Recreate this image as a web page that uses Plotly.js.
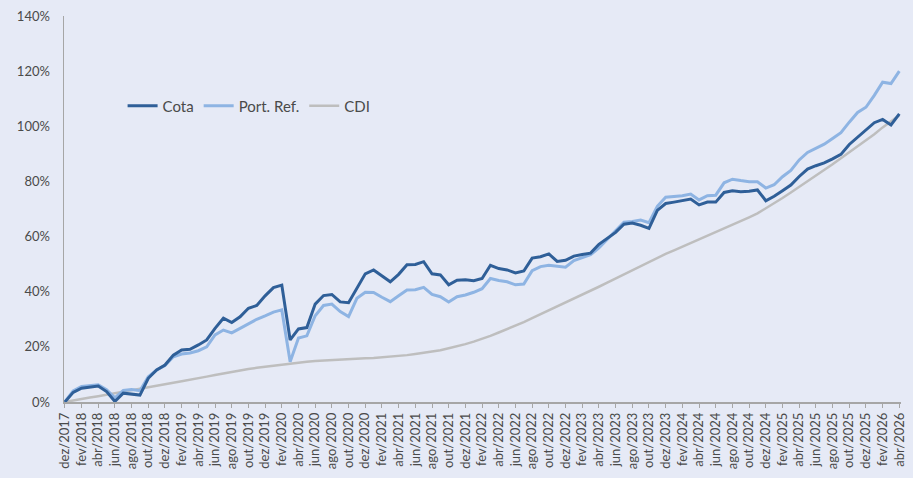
<!DOCTYPE html>
<html>
<head>
<meta charset="utf-8">
<script src="https://cdn.plot.ly/plotly-3.0.1.min.js"></script>
<style>
html,body{margin:0;padding:0;background:#E6EAF6;}
#chart{width:913px;height:478px;}
</style>
</head>
<body>
<div id="chart"></div>
<script>
// month index: 0 = dez/2017 ... 100 = abr/2026
const monthIndex = Array.from({length: 101}, (_, i) => i);

const tickLabels = [
  "dez/2017","fev/2018","abr/2018","jun/2018","ago/2018","out/2018",
  "dez/2018","fev/2019","abr/2019","jun/2019","ago/2019","out/2019",
  "dez/2019","fev/2020","abr/2020","jun/2020","ago/2020","out/2020",
  "dez/2020","fev/2021","abr/2021","jun/2021","ago/2021","out/2021",
  "dez/2021","fev/2022","abr/2022","jun/2022","ago/2022","out/2022",
  "dez/2022","fev/2023","abr/2023","jun/2023","ago/2023","out/2023",
  "dez/2023","fev/2024","abr/2024","jun/2024","ago/2024","out/2024",
  "dez/2024","fev/2025","abr/2025","jun/2025","ago/2025","out/2025",
  "dez/2025","fev/2026","abr/2026"
];
const tickPositions = tickLabels.map((_, i) => i * 2);

const yTickValues = [0, 20, 40, 60, 80, 100, 120, 140];
const yTickLabels = ["0%", "20%", "40%", "60%", "80%", "100%", "120%", "140%"];

const cota = [
  0, 3.5, 5.0, 5.5, 5.8, 3.8, 0.2, 3.2, 2.8, 2.5,
  8.6, 11.6, 13.4, 17.0, 18.9, 19.1, 20.7, 22.5, 26.7, 30.4,
  28.8, 30.9, 34.0, 35.0, 38.5, 41.5, 42.4, 22.5, 26.5, 27.0,
  35.5, 38.6, 39.0, 36.3, 36.0, 41.2, 46.5, 47.9, 45.9, 43.6,
  46.3, 49.8, 49.9, 50.9, 46.5, 46.1, 42.5, 44.2, 44.3, 44.0,
  44.8, 49.6, 48.4, 47.9, 46.8, 47.5, 52.2, 52.7, 53.7, 51.0,
  51.4, 52.9, 53.5, 54.0, 57.2, 59.5, 61.5, 64.5, 64.9, 64.1,
  63.0, 69.5, 72.0, 72.5, 73.0, 73.6, 71.5, 72.5, 72.5, 76.0,
  76.6, 76.3, 76.4, 76.9, 73.0, 74.6, 76.6, 78.7, 81.8, 84.5,
  85.7, 86.7, 88.2, 89.8, 93.4, 96.0, 98.8, 101.3, 102.5, 100.5,
  104.5
];

const portRef = [
  0, 4.0, 5.6, 6.0, 6.2, 4.5, 1.5, 4.2, 4.5, 4.1,
  9.2, 11.6, 13.2, 16.4, 17.4, 17.8, 18.6, 20.0, 24.3, 26.1,
  25.1, 26.7, 28.5, 30.0, 31.2, 32.6, 33.4, 14.6, 23.2, 24.0,
  31.3, 35.0, 35.5, 32.8, 31.0, 37.6, 39.8, 39.7, 38.0, 36.4,
  38.5, 40.6, 40.7, 41.6, 39.0, 38.2, 36.3, 38.2, 38.8, 39.8,
  41.1, 44.8, 44.1, 43.6, 42.5, 42.8, 47.6, 49.1, 49.6, 49.3,
  48.9, 51.3, 52.4, 53.4, 55.9, 59.0, 62.0, 65.2, 65.5, 66.0,
  65.0, 71.0, 74.3, 74.5, 74.8, 75.4, 73.3, 74.8, 75.0, 79.5,
  80.8, 80.3, 79.9, 79.9, 77.6, 78.8, 81.7, 84.0, 87.8, 90.5,
  92.0, 93.5, 95.6, 97.7, 101.5, 105.0, 106.9, 111.2, 116.0, 115.5,
  120.0
];

const cdi = [
  0, 0.6, 1.1, 1.6, 2.1, 2.7, 3.2, 3.7, 4.3, 4.8,
  5.4, 5.9, 6.4, 7.0, 7.5, 8.0, 8.6, 9.2, 9.8, 10.4,
  11.0, 11.5, 12.0, 12.4, 12.8, 13.2, 13.6, 14.0, 14.3, 14.6,
  14.9, 15.1, 15.3, 15.4, 15.5, 15.7, 15.9, 16.0, 16.2, 16.4,
  16.7, 17.0, 17.4, 17.8, 18.3, 18.8, 19.5, 20.2, 21.0, 21.9,
  22.9, 24.0, 25.2, 26.4, 27.7, 29.0, 30.4, 31.8, 33.2, 34.6,
  36.0, 37.4, 38.8, 40.3, 41.8, 43.3, 44.8, 46.3, 47.8, 49.3,
  50.8, 52.3, 53.7, 55.0, 56.3, 57.6, 58.9, 60.2, 61.5, 62.8,
  64.2, 65.6, 67.0, 68.4, 70.2, 72.0, 74.0, 76.0, 78.0, 80.0,
  82.0, 84.0, 86.2, 88.4, 90.6, 92.6, 94.8, 97.1, 99.6, 101.9,
  104.0
];

const seriesNames = ["Cota", "Port. Ref.", "CDI"];

const traces = [
  {x: monthIndex, y: cdi, name: seriesNames[2], type: 'scatter', mode: 'lines',
   line: {color: '#BEBEBE', width: 2.5}, legendrank: 3},
  {x: monthIndex, y: portRef, name: seriesNames[1], type: 'scatter', mode: 'lines',
   line: {color: '#8EB4E3', width: 3}, legendrank: 2},
  {x: monthIndex, y: cota, name: seriesNames[0], type: 'scatter', mode: 'lines',
   line: {color: '#2F5F98', width: 3}, legendrank: 1}
];

const layout = {
  width: 913, height: 478,
  paper_bgcolor: '#E6EAF6',
  plot_bgcolor: '#E6EAF6',
  margin: {l: 64, r: 12, t: 16, b: 76},
  font: {family: 'Lato, "Open Sans", sans-serif', size: 13, color: '#4A4A4A'},
  showlegend: true,
  legend: {
    orientation: 'h', x: 0.07, y: 0.767, xanchor: 'left', yanchor: 'middle',
    bgcolor: 'rgba(0,0,0,0)', font: {size: 15, color: '#4A4A4A'},
    traceorder: 'normal'
  },
  xaxis: {
    range: [-0.1, 100.2],
    tickmode: 'array', tickvals: tickPositions, ticktext: tickLabels,
    tickangle: -90, ticks: 'outside', ticklen: 4, tickcolor: '#A6A6A6',
    showline: true, linecolor: '#A6A6A6', linewidth: 1.5,
    showgrid: false, zeroline: false,
    tickfont: {size: 13, color: '#4A4A4A'}
  },
  yaxis: {
    range: [0, 140], tickmode: 'array', tickvals: yTickValues, ticktext: yTickLabels,
    ticks: '', ticklabelstandoff: 10, showline: true, linecolor: '#A6A6A6', linewidth: 1.5,
    showgrid: false, zeroline: false,
    tickfont: {size: 13, color: '#4A4A4A'}
  }
};

Plotly.newPlot('chart', traces, layout, {displayModeBar: false, staticPlot: true});
</script>
</body>
</html>
